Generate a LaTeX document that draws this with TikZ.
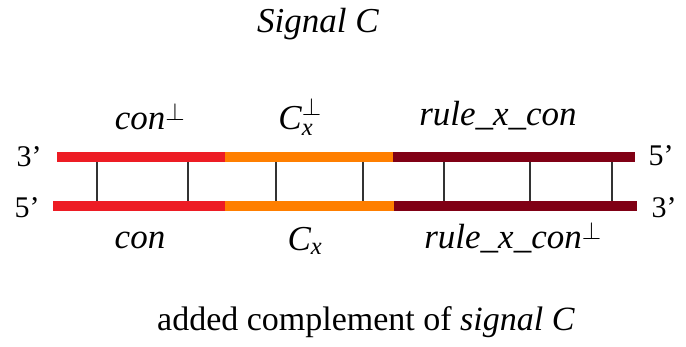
\documentclass[tikz,border=0pt]{standalone}
\usepackage{fontspec}
\usepackage{amsmath}
\setmainfont{Liberation Serif}
\definecolor{segA}{HTML}{ED1C24}
\definecolor{segB}{HTML}{FF7F00}
\definecolor{segC}{HTML}{800015}
\definecolor{rungc}{HTML}{333333}
\begin{document}
\begin{tikzpicture}[x=1pt,y=-1pt,
  strand/.style={line width=10pt},
  rung/.style={line width=1.5pt,draw=rungc},
  lbl/.style={inner sep=0pt,font=\fontsize{35}{40}\selectfont\itshape},
  endl/.style={inner sep=0pt,font=\fontsize{30}{34}\selectfont},
  caption/.style={inner sep=0pt,font=\fontsize{34}{40}\selectfont}]
\useasboundingbox (0,0) rectangle (686,346);
% top strand
\coordinate (t0) at (57,157);
\coordinate (t1) at (225,157);
\coordinate (t2) at (393,157);
\coordinate (t3) at (635,157);
\coordinate (b0) at (53,206);
\coordinate (b1) at (225,206);
\coordinate (b2) at (394,206);
\coordinate (b3) at (637,206);
\draw[strand,segA] (t0) -- (t1);
\draw[strand,segB] (t1) -- (t2);
\draw[strand,segC] (t2) -- (t3);
\draw[strand,segA] (b0) -- (b1);
\draw[strand,segB] (b1) -- (b2);
\draw[strand,segC] (b2) -- (b3);
\foreach \i/\x in {1/97,2/188,3/276,4/363,5/444,6/530,7/612}{
  \coordinate (ru\i) at (\x,162);
  \coordinate (rl\i) at (\x,201);
  \draw[rung] (ru\i) -- (rl\i);
}
\node[endl] (l3) at (29,157) {3’};
\node[endl] (l5) at (27,208) {5’};
\node[endl] (r5) at (661,156) {5’};
\node[endl] (r3) at (664,208) {3’};
\node[lbl] (title) at (318,24) {Signal C};
\node[lbl] (n1) at (150,117) {con$^{\perp}$};
\node[lbl] (n2) at (300,117) {$\text{\itshape C}_{\text{\itshape x}}^{\perp}$};
\node[lbl] (n3) at (498,116) {rule\_x\_con};
\node[lbl] (n4) at (140,240) {con};
\node[lbl] (n5) at (305,241) {$\text{\itshape C}_{\text{\itshape x}}$};
\node[lbl] (n6) at (513,238) {rule\_x\_con$^{\perp}$};
\node[caption] (foot) at (366,322) {added complement of \textit{signal C}};
\end{tikzpicture}
\end{document}
